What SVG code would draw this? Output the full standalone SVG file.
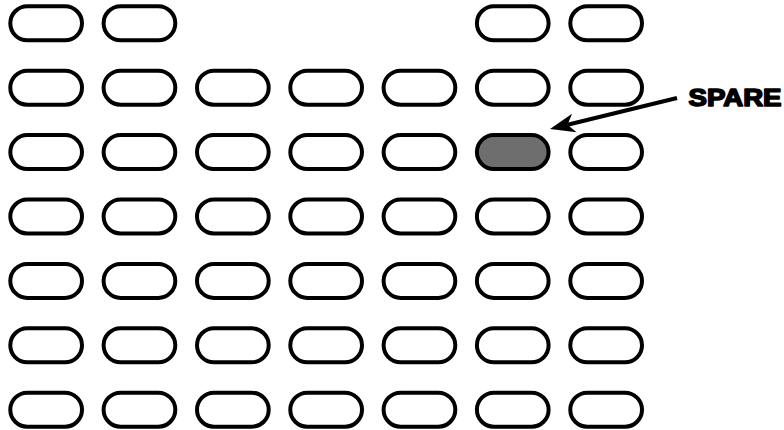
<svg xmlns="http://www.w3.org/2000/svg" width="784" height="430" viewBox="0 0 784 430">
<style>
.slot{fill:#fff;stroke:#000;stroke-width:4}
.spare{fill:#6e6e6e;stroke:#000;stroke-width:4}
.lbl{font-family:"Liberation Sans",Arial,sans-serif;font-weight:bold;font-size:24px;fill:#000;stroke:#000;stroke-width:1.6;stroke-linejoin:round}
.conn{stroke:#000;stroke-width:4;fill:none}
</style>
<defs>
<marker id="ah" markerUnits="userSpaceOnUse" viewBox="0 -10 26 20" refX="7" refY="0" markerWidth="26" markerHeight="20" orient="auto">
<path d="M25,0 L0,-9.5 L7,0 L0,9.5 Z" fill="#000"/>
</marker>
</defs>
<g id="row1">
<g id="n-1-1"><rect class="slot" x="10.3" y="6.3" width="71.7" height="34" rx="17"/></g>
<g id="n-1-2"><rect class="slot" x="103.6" y="6.3" width="71.7" height="34" rx="17"/></g>
<g id="n-1-6"><rect class="slot" x="476.9" y="6.3" width="71.7" height="34" rx="17"/></g>
<g id="n-1-7"><rect class="slot" x="570.3" y="6.3" width="71.7" height="34" rx="17"/></g>
</g>
<g id="row2">
<g id="n-2-1"><rect class="slot" x="10.3" y="70.7" width="71.7" height="34" rx="17"/></g>
<g id="n-2-2"><rect class="slot" x="103.6" y="70.7" width="71.7" height="34" rx="17"/></g>
<g id="n-2-3"><rect class="slot" x="197" y="70.7" width="71.7" height="34" rx="17"/></g>
<g id="n-2-4"><rect class="slot" x="290.3" y="70.7" width="71.7" height="34" rx="17"/></g>
<g id="n-2-5"><rect class="slot" x="383.6" y="70.7" width="71.7" height="34" rx="17"/></g>
<g id="n-2-6"><rect class="slot" x="476.9" y="70.7" width="71.7" height="34" rx="17"/></g>
<g id="n-2-7"><rect class="slot" x="570.3" y="70.7" width="71.7" height="34" rx="17"/></g>
</g>
<g id="row3">
<g id="n-3-1"><rect class="slot" x="10.3" y="135.1" width="71.7" height="34" rx="17"/></g>
<g id="n-3-2"><rect class="slot" x="103.6" y="135.1" width="71.7" height="34" rx="17"/></g>
<g id="n-3-3"><rect class="slot" x="197" y="135.1" width="71.7" height="34" rx="17"/></g>
<g id="n-3-4"><rect class="slot" x="290.3" y="135.1" width="71.7" height="34" rx="17"/></g>
<g id="n-3-5"><rect class="slot" x="383.6" y="135.1" width="71.7" height="34" rx="17"/></g>
<g id="spare-slot"><rect class="spare" x="476.9" y="135.1" width="71.7" height="34" rx="17"/></g>
<g id="n-3-7"><rect class="slot" x="570.3" y="135.1" width="71.7" height="34" rx="17"/></g>
</g>
<g id="row4">
<g id="n-4-1"><rect class="slot" x="10.3" y="199.5" width="71.7" height="34" rx="17"/></g>
<g id="n-4-2"><rect class="slot" x="103.6" y="199.5" width="71.7" height="34" rx="17"/></g>
<g id="n-4-3"><rect class="slot" x="197" y="199.5" width="71.7" height="34" rx="17"/></g>
<g id="n-4-4"><rect class="slot" x="290.3" y="199.5" width="71.7" height="34" rx="17"/></g>
<g id="n-4-5"><rect class="slot" x="383.6" y="199.5" width="71.7" height="34" rx="17"/></g>
<g id="n-4-6"><rect class="slot" x="476.9" y="199.5" width="71.7" height="34" rx="17"/></g>
<g id="n-4-7"><rect class="slot" x="570.3" y="199.5" width="71.7" height="34" rx="17"/></g>
</g>
<g id="row5">
<g id="n-5-1"><rect class="slot" x="10.3" y="263.9" width="71.7" height="34" rx="17"/></g>
<g id="n-5-2"><rect class="slot" x="103.6" y="263.9" width="71.7" height="34" rx="17"/></g>
<g id="n-5-3"><rect class="slot" x="197" y="263.9" width="71.7" height="34" rx="17"/></g>
<g id="n-5-4"><rect class="slot" x="290.3" y="263.9" width="71.7" height="34" rx="17"/></g>
<g id="n-5-5"><rect class="slot" x="383.6" y="263.9" width="71.7" height="34" rx="17"/></g>
<g id="n-5-6"><rect class="slot" x="476.9" y="263.9" width="71.7" height="34" rx="17"/></g>
<g id="n-5-7"><rect class="slot" x="570.3" y="263.9" width="71.7" height="34" rx="17"/></g>
</g>
<g id="row6">
<g id="n-6-1"><rect class="slot" x="10.3" y="328.3" width="71.7" height="34" rx="17"/></g>
<g id="n-6-2"><rect class="slot" x="103.6" y="328.3" width="71.7" height="34" rx="17"/></g>
<g id="n-6-3"><rect class="slot" x="197" y="328.3" width="71.7" height="34" rx="17"/></g>
<g id="n-6-4"><rect class="slot" x="290.3" y="328.3" width="71.7" height="34" rx="17"/></g>
<g id="n-6-5"><rect class="slot" x="383.6" y="328.3" width="71.7" height="34" rx="17"/></g>
<g id="n-6-6"><rect class="slot" x="476.9" y="328.3" width="71.7" height="34" rx="17"/></g>
<g id="n-6-7"><rect class="slot" x="570.3" y="328.3" width="71.7" height="34" rx="17"/></g>
</g>
<g id="row7">
<g id="n-7-1"><rect class="slot" x="10.3" y="392.7" width="71.7" height="34" rx="17"/></g>
<g id="n-7-2"><rect class="slot" x="103.6" y="392.7" width="71.7" height="34" rx="17"/></g>
<g id="n-7-3"><rect class="slot" x="197" y="392.7" width="71.7" height="34" rx="17"/></g>
<g id="n-7-4"><rect class="slot" x="290.3" y="392.7" width="71.7" height="34" rx="17"/></g>
<g id="n-7-5"><rect class="slot" x="383.6" y="392.7" width="71.7" height="34" rx="17"/></g>
<g id="n-7-6"><rect class="slot" x="476.9" y="392.7" width="71.7" height="34" rx="17"/></g>
<g id="n-7-7"><rect class="slot" x="570.3" y="392.7" width="71.7" height="34" rx="17"/></g>
</g>
<g id="spare-label"><text class="lbl" x="688.5" y="105.5" textLength="93" lengthAdjust="spacingAndGlyphs">SPARE</text></g>
<g id="connectors">
<line class="conn" x1="677" y1="98" x2="567.5" y2="124.7" marker-end="url(#ah)"/>
</g>
</svg>
